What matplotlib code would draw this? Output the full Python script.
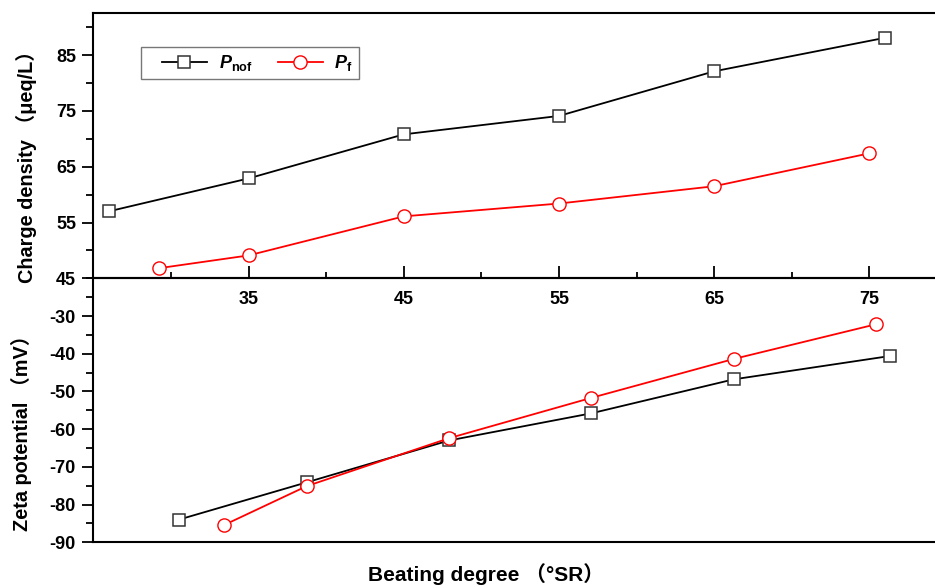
import matplotlib
matplotlib.use("Agg")
import matplotlib.pyplot as plt
from matplotlib.ticker import MultipleLocator
from matplotlib.legend_handler import HandlerLine2D

plt.rcParams.update({
    "font.family": ["Liberation Sans", "Noto Sans CJK SC", "DejaVu Sans"],
    "font.weight": "bold",
    "axes.unicode_minus": False,
    "mathtext.fontset": "custom",
    "mathtext.it": "Liberation Sans:italic:bold",
    "mathtext.rm": "Liberation Sans:bold",
    "mathtext.bf": "Liberation Sans:bold",
})

# ---- data ----
x_nof = [26, 35, 45, 55, 65, 76]
x_f = [29.2, 35, 45, 55, 65, 75]
charge_nof = [57.0, 62.9, 70.8, 74.1, 82.1, 88.1]
charge_f = [46.8, 49.1, 56.1, 58.4, 61.5, 67.4]
zeta_nof = [-84.0, -74.1, -63.0, -55.8, -46.8, -40.6]
zeta_f = [-85.4, -75.1, -62.4, -51.7, -41.4, -32.2]
top_ticks = [35, 45, 55, 65, 75]

fig = plt.figure(figsize=(9.35, 5.88), dpi=100)
ax1 = fig.add_axes([0.0998, 0.5267, 0.913, 0.4507])
ax2 = fig.add_axes([0.0998, 0.0777, 0.913, 0.4490])
ax2.patch.set_visible(False)  # keep top panel's x tick labels visible

nof_style = dict(color="black", lw=1.3, marker="s", ms=9, mfc="white",
                 mec="#333333", mew=1.1, label=r"$P_{\mathrm{nof}}$")
f_style = dict(color="red", lw=1.3, marker="o", ms=9.5, mfc="white",
               mec="red", mew=1.0, label=r"$P_{\mathrm{f}}$")

# ---- top: charge density ----
ax1.plot(x_nof, charge_nof, **nof_style)
ax1.plot(x_f, charge_f, **f_style)
ax1.set_xlim(25, 80)
ax1.set_ylim(45, 92.5)
ax1.set_xticks(top_ticks)
ax1.xaxis.set_minor_locator(MultipleLocator(5))
ax1.set_yticks([45, 55, 65, 75, 85])
ax1.yaxis.set_minor_locator(MultipleLocator(5))
ax1.tick_params(axis="x", which="major", direction="in", length=9, width=1.3,
                pad=9, labelsize=13)
ax1.tick_params(axis="x", which="minor", direction="in", length=4.5, width=1.3)
ax1.tick_params(axis="y", which="major", direction="out", length=8, width=1.3,
                pad=4.5, labelsize=13)
ax1.tick_params(axis="y", which="minor", direction="out", length=5, width=1.3)

hmap = {l: HandlerLine2D(xpad=0.83) for l in ax1.get_lines()}
leg = ax1.legend(handler_map=hmap, loc="upper left",
                 bbox_to_anchor=(0.0555, 0.874), ncol=2, fontsize=13,
                 frameon=True, fancybox=False, borderaxespad=0,
                 handlelength=3.3, columnspacing=0.6, borderpad=0.35,
                 handletextpad=0.66)
leg.get_frame().set_edgecolor("#555555")
leg.get_frame().set_linewidth(1.0)

# ---- bottom: zeta potential ----
ax2.plot(x_nof, zeta_nof, **nof_style)
ax2.plot(x_f, zeta_f, **f_style)
ax2.set_xlim(20, 80)
ax2.set_ylim(-90, -20)
ax2.set_xticks([])
ax2.set_yticks([-90, -80, -70, -60, -50, -40, -30])
ax2.yaxis.set_minor_locator(MultipleLocator(5))
ax2.tick_params(axis="y", which="major", direction="out", length=8, width=1.3,
                pad=4.5, labelsize=13)
ax2.tick_params(axis="y", which="minor", direction="out", length=5, width=1.3)

for ax in (ax1, ax2):
    for sp in ax.spines.values():
        sp.set_linewidth(1.5)

fig.text(0.028, 1 - 162 / 588, "Charge density （μeq/L）", rotation=90,
         ha="center", va="center", fontsize=14.3, fontweight="bold")
fig.text(0.023, 1 - 428 / 588, "Zeta potential （mV）", rotation=90,
         ha="center", va="center", fontsize=14.3, fontweight="bold")
fig.text(486 / 935, 1 - 581 / 588, "Beating degree （°SR）",
         ha="center", va="baseline", fontsize=15, fontweight="bold")

fig.savefig("out.png", dpi=100, facecolor="white")
